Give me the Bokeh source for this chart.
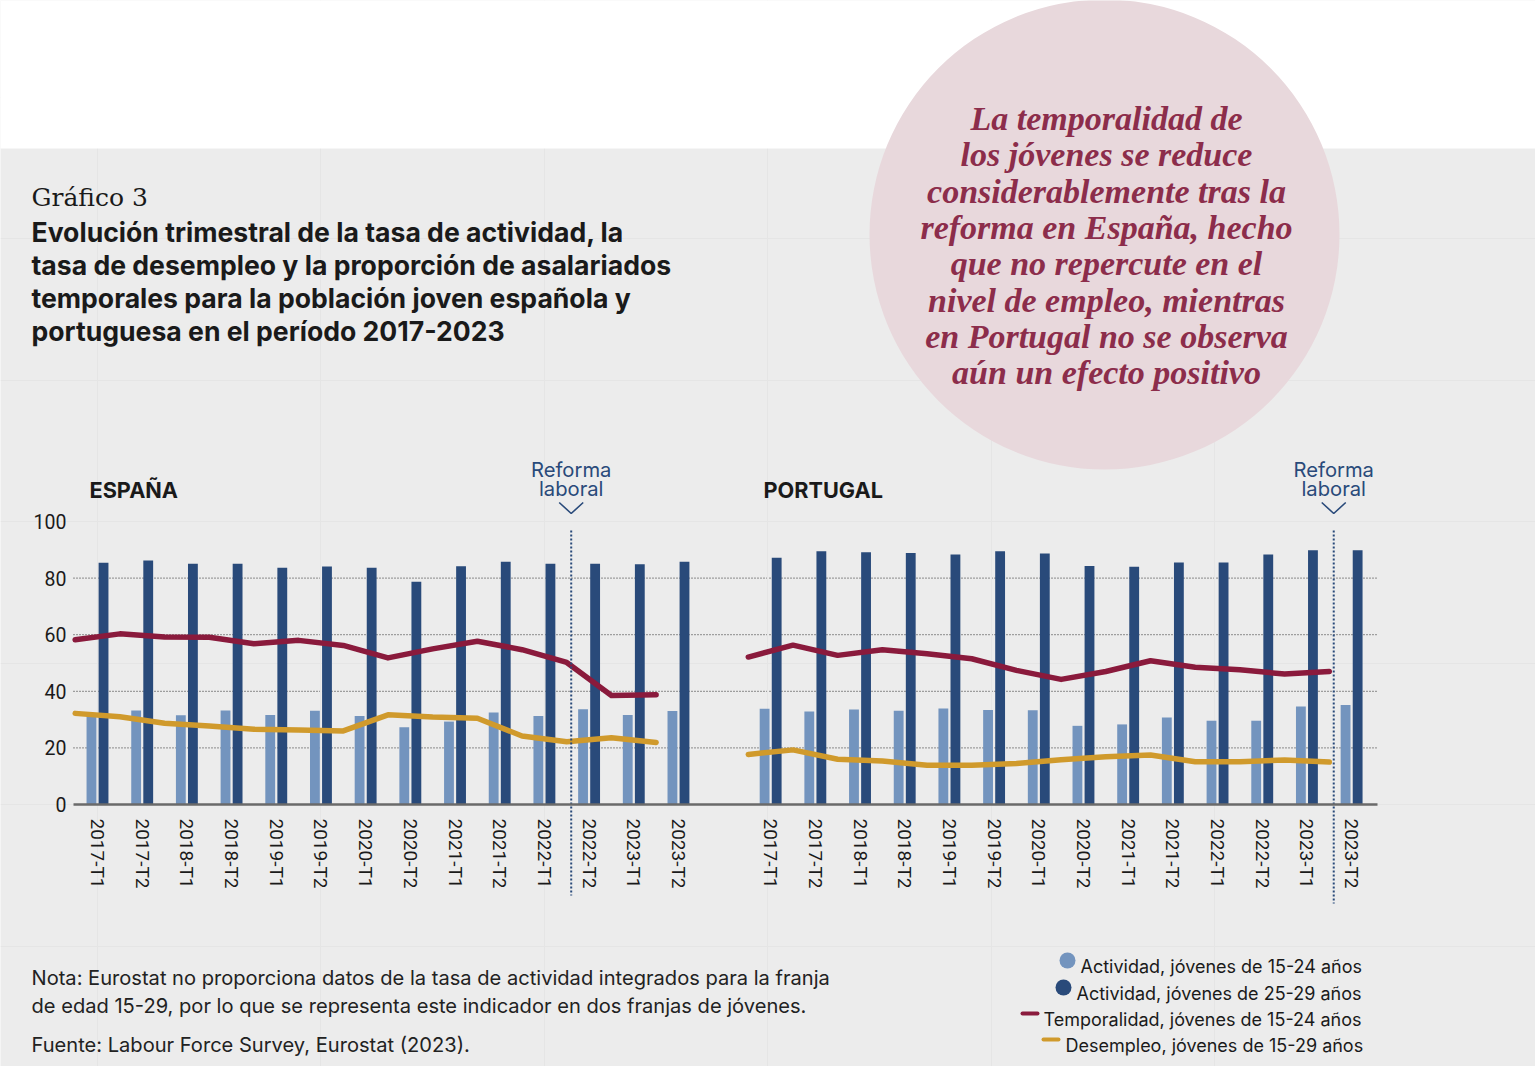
import numpy as np
from bokeh.plotting import figure
from bokeh.models import (ColumnDataSource, Range1d, FixedTicker, Label, LinearAxis)
from bokeh.embed import file_html
from bokeh.resources import INLINE

# ---------------- data ----------------
quarters = ["2017-T1", "2017-T2", "2018-T1", "2018-T2", "2019-T1", "2019-T2",
            "2020-T1", "2020-T2", "2021-T1", "2021-T2", "2022-T1", "2022-T2",
            "2023-T1", "2023-T2"]

es_act_1524 = [31.8, 33.2, 31.5, 33.2, 31.6, 33.1, 31.3, 27.3, 29.3, 32.5, 31.3, 33.7, 31.6, 33.0]
es_act_2529 = [85.4, 86.2, 85.1, 85.1, 83.7, 84.1, 83.7, 78.7, 84.2, 85.8, 85.1, 85.1, 84.9, 85.8]
es_temp = [58.2, 60.3, 59.2, 59.1, 56.8, 58.0, 56.2, 51.8, 55.0, 57.7, 54.7, 50.2, 38.5, 38.8]
es_desemp = [32.2, 31.0, 28.7, 27.7, 26.6, 26.3, 26.0, 31.7, 30.9, 30.5, 24.2, 22.2, 23.6, 21.9]

pt_act_1524 = [33.8, 32.9, 33.6, 33.1, 33.9, 33.4, 33.3, 27.8, 28.3, 30.7, 29.6, 29.6, 34.6, 35.2]
pt_act_2529 = [87.2, 89.5, 89.1, 88.9, 88.3, 89.5, 88.7, 84.3, 84.0, 85.5, 85.5, 88.3, 89.8, 89.8]
pt_temp = [52.1, 56.3, 52.7, 54.7, 53.3, 51.5, 47.4, 44.2, 47.0, 50.8, 48.5, 47.6, 46.1, 47.0]
pt_desemp = [17.7, 19.3, 16.0, 15.4, 13.9, 13.9, 14.5, 15.8, 16.9, 17.5, 15.1, 15.1, 15.7, 15.0]

y_ticks = [0, 20, 40, 60, 80, 100]
es_reform_after = "2022-T1"   # reform between 2022-T1 and 2022-T2
pt_reform_after = "2023-T1"   # reform between 2023-T1 and 2023-T2

legend_labels = ["Actividad, jóvenes de 15-24 años",
                 "Actividad, jóvenes de 25-29 años",
                 "Temporalidad, jóvenes de 15-24 años",
                 "Desempleo, jóvenes de 15-29 años"]

title_lines = ["Evolución trimestral de la tasa de actividad, la",
               "tasa de desempleo y la proporción de asalariados",
               "temporales para la población joven española y",
               "portuguesa en el período 2017-2023"]

bubble_lines = ["La temporalidad de", "los jóvenes se reduce",
                "considerablemente tras la", "reforma en España, hecho",
                "que no repercute en el", "nivel de empleo, mientras",
                "en Portugal no se observa", "aún un efecto positivo"]

notes = ["Nota: Eurostat no proporciona datos de la tasa de actividad integrados para la franja",
         "de edad 15-29, por lo que se representa este indicador en dos franjas de jóvenes.",
         "Fuente: Labour Force Survey, Eurostat (2023)."]

# ---------------- style / layout ----------------
BG = "#ececec"
LIGHT = "#7394be"
NAVY = "#294a7a"
RED = "#8a1a3c"
GOLD = "#d09a2c"
PINK = "#e8d8dc"
WINE = "#8c2d4b"
TXT = "#1a1a1a"
SANS = "Inter"
TICKF = "Roboto"

W, H = 1535, 1066
FL, FR, FT, FB = 73, 1377, 521, 804      # page coords of the chart area
X0 = -0.537                               # data x at left edge of chart area
U = 44.69                                 # px per category
PXU = (FB - FT) / 100.0                   # px per y unit
PT_OFF = 15.0625
BAR_OFF, BAR_W = 0.135, 0.22
X_END = X0 + (FR - FL) / U


def dx(px):
    return X0 + (px - FL) / U


def dy(py):
    return (FB - py) / PXU


p = figure(width=W, height=H, output_backend="svg", toolbar_location=None,
           x_range=Range1d(dx(0), dx(W)), y_range=Range1d(dy(H), dy(0)),
           x_axis_location=None, y_axis_location=None,
           min_border=0, min_border_left=0, min_border_right=0,
           min_border_top=0, min_border_bottom=0)
p.background_fill_color = BG
p.border_fill_color = BG
p.outline_line_color = None

# ---------------- header decorations ----------------
p.quad(left=dx(-10), right=dx(W + 10), top=dy(-10), bottom=dy(148), fill_color="white", line_color=None)
p.scatter(x=[dx(1104)], y=[dy(234)], size=470, marker="circle", fill_color=PINK, line_color=None)

# ---------------- grid (dotted, limited to the chart area) ----------------
grid_src = ColumnDataSource(dict(y=y_ticks[1:], x0=[X0] * 5, x1=[X_END] * 5))
p.segment(x0="x0", y0="y", x1="x1", y1="y", source=grid_src, line_color="#2a2a2a",
          line_width=1, line_dash="1 2", level="underlay")

# ---------------- data glyphs ----------------
idx = np.arange(len(quarters))
es_x = idx.astype(float)
pt_x = idx + PT_OFF
es_ref = quarters.index(es_reform_after) + 0.6
pt_ref = quarters.index(pt_reform_after) + 0.6 + PT_OFF

src = ColumnDataSource(dict(
    es_l=es_x - BAR_OFF, es_d=es_x + BAR_OFF, pt_l=pt_x - BAR_OFF, pt_d=pt_x + BAR_OFF,
    es_line=es_x - 0.5, pt_line=pt_x - 0.5,
    es_a1=es_act_1524, es_a2=es_act_2529, es_t=es_temp, es_u=es_desemp,
    pt_a1=pt_act_1524, pt_a2=pt_act_2529, pt_t=pt_temp, pt_u=pt_desemp))

for xl, xd, a1, a2 in [("es_l", "es_d", "es_a1", "es_a2"), ("pt_l", "pt_d", "pt_a1", "pt_a2")]:
    p.vbar(x=xl, top=a1, bottom=0, width=BAR_W, source=src, fill_color=LIGHT, line_color=None)
    p.vbar(x=xd, top=a2, bottom=0, width=BAR_W, source=src, fill_color=NAVY, line_color=None)

for xs_, t_, u_ in [("es_line", "es_t", "es_u"), ("pt_line", "pt_t", "pt_u")]:
    p.line(x=xs_, y=u_, source=src, line_color=GOLD, line_width=5.5, line_join="round", line_cap="round")
    p.line(x=xs_, y=t_, source=src, line_color=RED, line_width=5.5, line_join="round", line_cap="round")

# reform markers: dotted vertical line + chevron
ref_src = ColumnDataSource(dict(x=[es_ref, pt_ref], top=[dy(530), dy(530)], bot=[dy(895), dy(903)]))
p.segment(x0="x", y0="top", x1="x", y1="bot", source=ref_src, line_color=NAVY,
          line_width=2, line_dash="2 2")
for rx in [es_ref, pt_ref]:
    p.line(x=[rx - 12 / U, rx, rx + 12 / U], y=[dy(502), dy(513), dy(502)],
           line_color=NAVY, line_width=1.6)

# ---------------- axes ----------------
ticks = [float(v) for v in es_x] + [float(v) for v in pt_x]
xaxis = LinearAxis(fixed_location=0, ticker=FixedTicker(ticks=ticks), bounds=(X0, X_END))
xaxis.major_label_overrides = {tk: q for tk, q in zip(ticks, quarters + quarters)}
xaxis.major_label_orientation = "vertical"
xaxis.axis_line_color = "#6a6a6a"
xaxis.axis_line_width = 2.5
xaxis.major_tick_line_color = None
xaxis.minor_tick_line_color = None
xaxis.major_tick_out = 0
xaxis.major_tick_in = 0
xaxis.major_label_standoff = 14
xaxis.major_label_text_font = TICKF
xaxis.major_label_text_font_size = "19px"
xaxis.major_label_text_color = TXT
p.add_layout(xaxis, "below")

yaxis = LinearAxis(fixed_location=X0, ticker=FixedTicker(ticks=y_ticks))
yaxis.axis_line_color = None
yaxis.major_tick_line_color = None
yaxis.minor_tick_line_color = None
yaxis.major_tick_out = 0
yaxis.major_tick_in = 0
yaxis.major_label_standoff = 7
yaxis.major_label_text_font = TICKF
yaxis.major_label_text_font_size = "19.5px"
yaxis.major_label_text_color = TXT
p.add_layout(yaxis, "left")


# ---------------- texts ----------------
def lab(text, px, py, size, font=SANS, style="normal", color=TXT, align="left"):
    p.add_layout(Label(x=dx(px), y=dy(py), text=text, text_font=font, text_font_size=f"{size}px",
                       text_font_style=style, text_color=color, text_align=align,
                       text_baseline="alphabetic"))


lab("Gráfico 3", 31, 197, 25, font="DejaVu Serif")
for i, line in enumerate(title_lines):
    lab(line, 31, 231 + i * 33.3, 26.6, style="bold")

for i, line in enumerate(bubble_lines):
    lab(line, 1106, 118 + i * 36.3, 34, font="Liberation Serif", style="bold italic",
        color=WINE, align="center")

lab("ESPAÑA", 89, 489, 21.7, style="bold")
lab("PORTUGAL", 763, 489, 21.7, style="bold")

for rx in [es_ref, pt_ref]:
    rpx = FL + (rx - X0) * U
    lab("Reforma", rpx, 469, 20.2, color=NAVY, align="center")
    lab("laboral", rpx, 488, 20.2, color=NAVY, align="center")

lab(notes[0], 31, 977, 20.1, color="#222222")
lab(notes[1], 31, 1005, 20.1, color="#222222")
lab(notes[2], 31, 1044, 20.1, color="#222222")

# ---------------- legend ----------------
leg_x = [1080, 1076, 1043, 1065]
leg_y = [966, 993, 1019, 1045]
for txt, lx, ly in zip(legend_labels, leg_x, leg_y):
    lab(txt, lx, ly, 18)
p.scatter(x=[dx(1067)], y=[dy(960)], size=16, marker="circle", fill_color=LIGHT, line_color=None)
p.scatter(x=[dx(1063)], y=[dy(987)], size=16, marker="circle", fill_color=NAVY, line_color=None)
p.line(x=[dx(1022), dx(1037)], y=[dy(1013), dy(1013)], line_color=RED, line_width=4, line_cap="round")
p.line(x=[dx(1043), dx(1058)], y=[dy(1039), dy(1039)], line_color=GOLD, line_width=4, line_cap="round")

open("out.html", "w", encoding="utf-8").write(file_html(p, INLINE))
